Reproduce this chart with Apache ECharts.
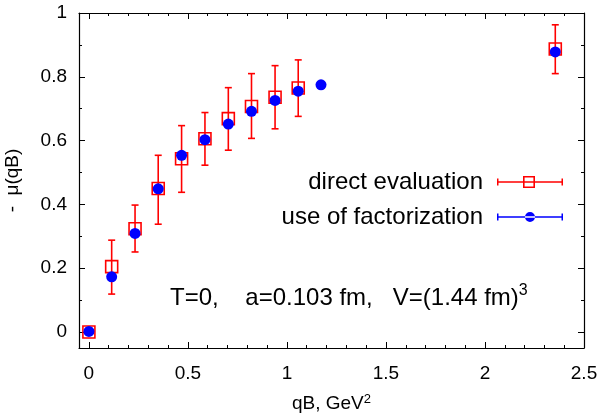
<!DOCTYPE html>
<html><head><meta charset="utf-8">
<script src="https://cdn.jsdelivr.net/npm/echarts@6/dist/echarts.min.js"></script>
<style>html,body{margin:0;padding:0;background:#fff}#c{width:604px;height:419px}</style>
</head><body><div id="c"></div>
<script>
// ---- data ----
var directQB   = [0, 0.115, 0.233, 0.35, 0.468, 0.586, 0.704, 0.821, 0.94, 1.057, 2.355];
var directMu   = [0, 0.205, 0.324, 0.45, 0.543, 0.606, 0.669, 0.707, 0.736, 0.765, 0.887];
var directLow  = [0, 0.119, 0.251, 0.338, 0.438, 0.523, 0.570, 0.607, 0.637, 0.676, 0.810];
var directHigh = [0, 0.288, 0.398, 0.554, 0.647, 0.688, 0.766, 0.810, 0.835, 0.853, 0.963];
var factQB     = [0, 0.115, 0.233, 0.35, 0.468, 0.586, 0.704, 0.821, 0.94, 1.057, 1.172, 2.355];
var factMu     = [0.002, 0.173, 0.309, 0.449, 0.554, 0.603, 0.652, 0.692, 0.726, 0.755, 0.775, 0.878];
var seriesNames = ['direct evaluation', 'use of factorization'];
var xTickLabels = [0, 0.5, 1, 1.5, 2, 2.5];
var xMinorTicks = [0.1,0.2,0.3,0.4,0.6,0.7,0.8,0.9,1.1,1.2,1.3,1.4,1.6,1.7,1.8,1.9,2.1,2.2,2.3,2.4];
var yTickLabels = [0, 0.2, 0.4, 0.6, 0.8, 1];
var yMinorTicks = [0.1, 0.3, 0.5, 0.7, 0.9];
var xRange = [-0.05, 2.5];
var yRange = [-0.05, 1];
var annotationText = 'T=0,    a=0.103 fm,   V=(1.44 fm)';
var annotationSup = '3';

// ---- chart ----
var FONT = '"Liberation Sans", Arial, Helvetica, sans-serif';
var RED = '#ff0000', BLUE = '#0000ff';
var TICK_FS = 19;
var chart = echarts.init(document.getElementById('c'), null, {renderer: 'canvas'});

function xAx(pos, vals, len, withLine, withLabel) {
  var a = {
    type: 'value', min: xRange[0], max: xRange[1], position: pos, gridIndex: 0,
    axisLine: {show: withLine, onZero: false, lineStyle: {color: '#000', width: 1.2}},
    axisTick: {show: true, inside: true, length: len, customValues: vals, lineStyle: {color: '#000', width: 1}},
    axisLabel: {show: withLabel, customValues: vals, margin: 16, fontSize: TICK_FS, color: '#000', fontFamily: FONT},
    splitLine: {show: false}
  };
  if (withLabel) {
    a.name = '{a|qB, GeV}{s|2}';
    a.nameLocation = 'middle';
    a.nameGap = 45;
    a.nameTextStyle = {fontFamily: FONT, color: '#000', rich: {
      a: {fontSize: TICK_FS, fontFamily: FONT, color: '#000', lineHeight: 22},
      s: {fontSize: 13, fontFamily: FONT, color: '#000', verticalAlign: 'top', lineHeight: 13}
    }};
  }
  return a;
}
function yAx(pos, vals, len, withLine, withLabel) {
  var a = {
    type: 'value', min: yRange[0], max: yRange[1], position: pos, gridIndex: 0,
    axisLine: {show: withLine, onZero: false, lineStyle: {color: '#000', width: 1.2}},
    axisTick: {show: true, inside: true, length: len, customValues: vals, lineStyle: {color: '#000', width: 1}},
    axisLabel: {show: withLabel, customValues: vals, margin: 12, fontSize: TICK_FS, color: '#000', fontFamily: FONT},
    splitLine: {show: false}
  };
  if (withLabel) {
    a.name = '-  \u03bc(qB)';
    a.nameLocation = 'middle';
    a.nameGap = 57;
    a.nameTextStyle = {fontSize: TICK_FS, fontFamily: FONT, color: '#000'};
  }
  return a;
}

var redIcon = 'path://M0 5.2H66V6.8H0Z M0 2.5H1.5V9.5H0Z M64.5 2.5H66V9.5H64.5Z M26 0H38V12H26Z M27.6 1.6V10.4H36.4V1.6Z';
var blueIcon = 'path://M0 5.2H66V6.8H0Z M0 2.5H1.5V9.5H0Z M64.5 2.5H66V9.5H64.5Z M28 6A5 5 0 1 0 38 6A5 5 0 1 0 28 6Z';

var directData = directQB.map(function (x, i) { return [x, directMu[i], directLow[i], directHigh[i]]; });
var factData = factQB.map(function (x, i) { return [x, factMu[i]]; });

var option = {
  animation: false,
  backgroundColor: '#fff',
  grid: {left: 79, right: 20, top: 13, bottom: 71, containLabel: false, outerBoundsMode: 'none'},
  xAxis: [
    xAx('bottom', xTickLabels, 6, true, true),
    xAx('bottom', xMinorTicks, 3, false, false),
    xAx('top', xTickLabels, 6, true, false),
    xAx('top', xMinorTicks, 3, false, false)
  ],
  yAxis: [
    yAx('left', yTickLabels, 6, true, true),
    yAx('left', yMinorTicks, 3, false, false),
    yAx('right', yTickLabels, 6, true, false),
    yAx('right', yMinorTicks, 3, false, false)
  ],
  legend: {
    orient: 'vertical', right: 36, top: 164, align: 'right',
    itemWidth: 66, itemHeight: 12, itemGap: 9,
    textStyle: {fontSize: 24, fontFamily: FONT, color: '#000', lineHeight: 26, padding: [0, 9, 0, 0]},
    data: [
      {name: seriesNames[0], icon: redIcon, itemStyle: {color: RED, borderWidth: 0}},
      {name: seriesNames[1], icon: blueIcon, itemStyle: {color: BLUE, borderWidth: 0}}
    ]
  },
  graphic: [{
    type: 'text', left: 170, top: 283, z: 100,
    style: {
      text: '{b|' + annotationText + '}{s|' + annotationSup + '}',
      font: '24px ' + FONT, fill: '#000',
      rich: {
        b: {fontSize: 24, fontFamily: FONT, fill: '#000', lineHeight: 30},
        s: {fontSize: 16, fontFamily: FONT, fill: '#000', verticalAlign: 'top', lineHeight: 16}
      }
    }
  }],
  series: [
    {
      name: seriesNames[0], type: 'custom', xAxisIndex: 0, yAxisIndex: 0, z: 2,
      itemStyle: {color: RED},
      encode: {x: 0, y: 1},
      data: directData,
      renderItem: function (params, api) {
        var x = api.value(0), y = api.value(1), lo = api.value(2), hi = api.value(3);
        var c = api.coord([x, y]);
        var cl = api.coord([x, lo]);
        var ch = api.coord([x, hi]);
        var st = {stroke: RED, lineWidth: 1.6, fill: null};
        var kids = [];
        if (hi > lo) {
          kids.push({type: 'line', shape: {x1: c[0], y1: cl[1], x2: c[0], y2: ch[1]}, style: st});
          kids.push({type: 'line', shape: {x1: c[0] - 3.5, y1: cl[1], x2: c[0] + 3.5, y2: cl[1]}, style: st});
          kids.push({type: 'line', shape: {x1: c[0] - 3.5, y1: ch[1], x2: c[0] + 3.5, y2: ch[1]}, style: st});
        }
        kids.push({type: 'rect', shape: {x: c[0] - 6, y: c[1] - 6, width: 12, height: 12},
                   style: {stroke: RED, lineWidth: 1.6, fill: 'none'}});
        return {type: 'group', children: kids};
      }
    },
    {
      name: seriesNames[1], type: 'scatter', xAxisIndex: 0, yAxisIndex: 0, z: 3,
      symbol: 'circle', symbolSize: 11,
      itemStyle: {color: BLUE, opacity: 1},
      data: factData
    }
  ]
};
chart.setOption(option);
</script>
</body></html>
